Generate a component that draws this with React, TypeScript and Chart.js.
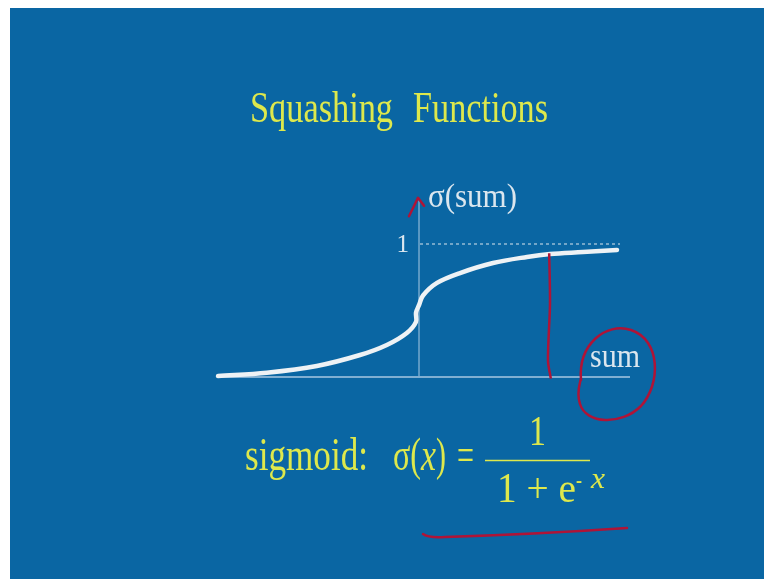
import React, { useEffect, useRef } from "react";
import { Chart, registerables } from "chart.js";

Chart.register(...registerables);

// Squashing function curve (sum on x, sigma(sum) on y)
const curveX = [-5.0, -3.78, -2.53, -1.45, -0.78, -0.28, -0.05, -0.05, 0.03, 0.125, 0.475, 1.05, 1.875, 2.725, 3.3, 4.125, 4.975];
const curveY = [0, 0.025, 0.076, 0.159, 0.235, 0.326, 0.41, 0.48, 0.54, 0.61, 0.705, 0.78, 0.856, 0.902, 0.924, 0.939, 0.955];

// Upper bound guide (sigma = 1)
const limitX = [0.05, 5.05];
const limitLevel = 1;

// Hand-drawn marker at a chosen sum
const markerX = [3.28, 3.3, 3.25, 3.32];
const markerY = [0.93, 0.55, 0.12, -0.02];

// Axis extents
const xRange = [-5, 5.3];
const yRange = [0, 1.5];
const yTickLabels = ["1"];

const BLUE = "#0a66a3";
const YELLOW = "#dee84c";
const LIGHT = "#dbe6ee";
const CURVE = "#eef2f5";
const AXIS = "#a9c9e2";
const RED = "#af1437";

function fitText(
  ctx: CanvasRenderingContext2D,
  text: string,
  x: number,
  baseline: number,
  size: number,
  width: number,
  color: string,
  style = ""
) {
  ctx.save();
  ctx.font = `${style} ${size}px "Liberation Serif", "Times New Roman", serif`;
  const w = ctx.measureText(text).width;
  ctx.translate(x, baseline);
  ctx.scale(width / w, 1);
  ctx.fillStyle = color;
  ctx.textAlign = "left";
  ctx.textBaseline = "alphabetic";
  ctx.fillText(text, 0, 0);
  ctx.restore();
}

const slidePlugin = {
  id: "slideDecor",
  beforeDatasetsDraw(chart: any) {
    const ctx: CanvasRenderingContext2D = chart.ctx;
    const xs = chart.scales.x;
    const ys = chart.scales.y;
    const x0 = xs.getPixelForValue(0);
    const y0 = ys.getPixelForValue(0);
    ctx.save();
    ctx.strokeStyle = AXIS;
    ctx.lineWidth = 1.5;
    ctx.beginPath();
    ctx.moveTo(xs.getPixelForValue(xRange[0]) - 1, y0 + 1);
    ctx.lineTo(xs.getPixelForValue(xRange[1]), y0 + 1);
    ctx.stroke();
    ctx.lineWidth = 1;
    ctx.beginPath();
    ctx.moveTo(x0 + 1, y0);
    ctx.lineTo(x0 + 1, ys.getPixelForValue(1.33));
    ctx.stroke();
    ctx.restore();
  },
  afterDatasetsDraw(chart: any) {
    const ctx: CanvasRenderingContext2D = chart.ctx;
    const xs = chart.scales.x;
    const ys = chart.scales.y;
    const x0 = xs.getPixelForValue(0);
    const y0 = ys.getPixelForValue(0);
    const y1 = ys.getPixelForValue(limitLevel);

    // title
    fitText(ctx, "Squashing", 250, 122, 44, 143, YELLOW);
    fitText(ctx, "Functions", 413, 122, 44, 135, YELLOW);

    // axis labels
    fitText(ctx, "\u03c3(sum)", x0 + 10, ys.getPixelForValue(1.28), 34, 89, LIGHT);
    ctx.save();
    ctx.font = `25px "Liberation Serif", serif`;
    ctx.fillStyle = LIGHT;
    ctx.textAlign = "right";
    ctx.textBaseline = "middle";
    ctx.fillText(yTickLabels[0], x0 - 9, y1 + 1);
    ctx.restore();
    fitText(ctx, "sum", xs.getPixelForValue(4.3), y0 - 9, 33, 50, LIGHT);

    // formula
    fitText(ctx, "sigmoid:", 245, 470, 46, 123, YELLOW);
    fitText(ctx, "\u03c3(", 393, 470, 46, 28, YELLOW);
    fitText(ctx, "x", 421, 470, 46, 15, YELLOW, "italic");
    fitText(ctx, ")", 436, 470, 46, 10, YELLOW);
    fitText(ctx, "=", 457, 470, 46, 17, YELLOW);
    ctx.save();
    ctx.strokeStyle = YELLOW;
    ctx.lineWidth = 1.6;
    ctx.beginPath();
    ctx.moveTo(485, 460.5);
    ctx.lineTo(590, 460.5);
    ctx.stroke();
    ctx.restore();
    fitText(ctx, "1", 529, 445, 43, 17, YELLOW);
    fitText(ctx, "1 + e", 497, 502, 43, 79, YELLOW);
    fitText(ctx, "-", 576, 488, 26, 6, YELLOW);
    fitText(ctx, "x", 591, 488, 30, 14, YELLOW, "italic");

    // red pen annotations
    ctx.save();
    ctx.strokeStyle = RED;
    ctx.lineWidth = 2.5;
    ctx.lineCap = "round";
    ctx.lineJoin = "round";
    // arrow tip on the vertical axis
    ctx.beginPath();
    ctx.moveTo(x0 - 9, ys.getPixelForValue(1.21));
    ctx.lineTo(x0, ys.getPixelForValue(1.35));
    ctx.lineTo(x0 + 6, ys.getPixelForValue(1.29));
    ctx.stroke();
    // loop around the "sum" label
    const cx = xs.getPixelForValue(4.95);
    const cy = y0 - 2;
    ctx.beginPath();
    ctx.moveTo(cx - 35, cy + 6);
    ctx.bezierCurveTo(cx - 38, cy - 30, cx - 10, cy - 52, cx + 15, cy - 44);
    ctx.bezierCurveTo(cx + 45, cy - 34, cx + 45, cy + 10, cx + 25, cy + 32);
    ctx.bezierCurveTo(cx + 5, cy + 52, cx - 30, cy + 50, cx - 36, cy + 30);
    ctx.bezierCurveTo(cx - 40, cy + 18, cx - 36, cy + 10, cx - 35, cy + 4);
    ctx.stroke();
    // underline below the fraction
    ctx.beginPath();
    ctx.moveTo(423, 534);
    ctx.quadraticCurveTo(428, 538, 445, 537);
    ctx.quadraticCurveTo(540, 534, 627, 528);
    ctx.stroke();
    ctx.restore();
  },
};

export default function App() {
  const canvasRef = useRef<HTMLCanvasElement | null>(null);

  useEffect(() => {
    const canvas = canvasRef.current;
    if (!canvas) return;
    const chart = new Chart(canvas, {
      type: "line",
      data: {
        datasets: [
          {
            label: "marker",
            data: markerX.map((x, i) => ({ x, y: markerY[i] })),
            borderColor: RED,
            borderWidth: 2.5,
            pointRadius: 0,
            tension: 0.3,
            clip: false,
          },
          {
            label: "sigma",
            data: curveX.map((x, i) => ({ x, y: curveY[i] })),
            borderColor: CURVE,
            borderWidth: 4.5,
            borderCapStyle: "round",
            pointRadius: 0,
            tension: 0.35,
            clip: false,
          },
          {
            label: "limit",
            data: limitX.map((x) => ({ x, y: limitLevel })),
            borderColor: LIGHT,
            borderWidth: 1,
            borderDash: [3, 3],
            pointRadius: 0,
            clip: false,
          },
        ],
      },
      options: {
        responsive: false,
        animation: false,
        events: [],
        layout: { padding: { left: 218, right: 134, top: 178, bottom: 203 } },
        scales: {
          x: { type: "linear", min: xRange[0], max: xRange[1], display: false },
          y: { type: "linear", min: yRange[0], max: yRange[1], display: false },
        },
        plugins: {
          legend: { display: false },
          tooltip: { enabled: false },
          title: { display: false },
        },
      },
      plugins: [slidePlugin],
    });
    return () => chart.destroy();
  }, []);

  return (
    <div style={{ position: "fixed", left: 0, top: 0, width: 764, height: 579, background: "#ffffff" }}>
      <div style={{ position: "absolute", left: 10, top: 8, right: 0, bottom: 0, background: BLUE }} />
      <canvas
        ref={canvasRef}
        width={764}
        height={579}
        style={{ position: "absolute", left: 0, top: 0, width: 764, height: 579 }}
      />
    </div>
  );
}
